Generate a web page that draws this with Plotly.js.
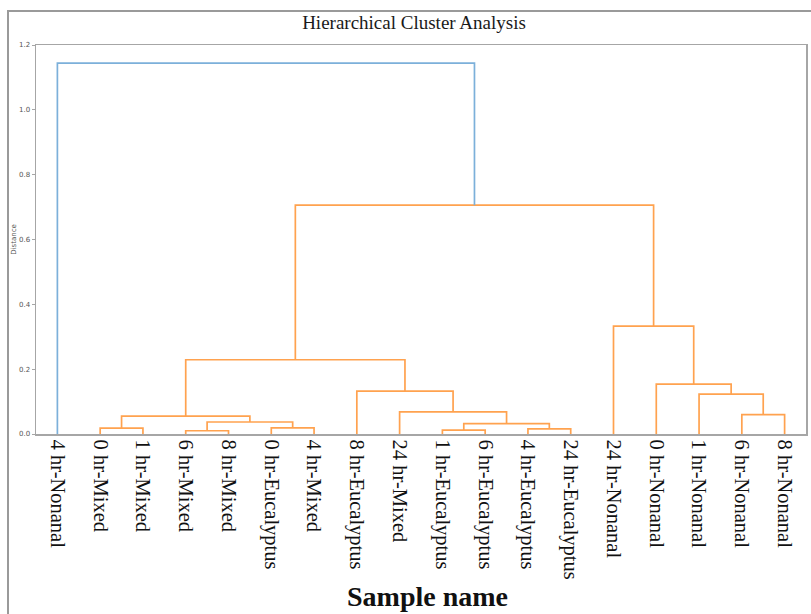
<!DOCTYPE html>
<html>
<head>
<meta charset="utf-8">
<script src="https://cdn.plot.ly/plotly-3.0.1.min.js"></script>
<style>
  html, body { margin: 0; padding: 0; background: #ffffff; overflow: hidden; }
  #chart { width: 811px; height: 614px; }
</style>
</head>
<body>
<div id="chart"></div>
<script>
// Leaf labels in dendrogram order (left to right)
const leafLabels = [
  "4 hr-Nonanal", "0 hr-Mixed", "1 hr-Mixed", "6 hr-Mixed", "8 hr-Mixed",
  "0 hr-Eucalyptus", "4 hr-Mixed", "8 hr-Eucalyptus", "24 hr-Mixed",
  "1 hr-Eucalyptus", "6 hr-Eucalyptus", "4 hr-Eucalyptus", "24 hr-Eucalyptus",
  "24 hr-Nonanal", "0 hr-Nonanal", "1 hr-Nonanal", "6 hr-Nonanal", "8 hr-Nonanal"
];

// Linkage: each merge creates cluster id = 18 + row index
const mergeLeft   = [3, 9, 11, 1, 5, 19, 18, 21, 16, 8, 15, 7, 14, 25, 13, 31, 0];
const mergeRight  = [4, 10, 12, 2, 6, 20, 22, 24, 17, 23, 26, 27, 28, 29, 30, 32, 33];
const mergeHeight = [0.010, 0.012, 0.016, 0.018, 0.019, 0.032, 0.037, 0.055, 0.060,
                     0.068, 0.123, 0.132, 0.154, 0.229, 0.333, 0.706, 1.144];
const mergeColor  = ["o","o","o","o","o","o","o","o","o","o","o","o","o","o","o","o","b"];

const yTickVals = [0.0, 0.2, 0.4, 0.6, 0.8, 1.0, 1.2];

const COLORS = { o: "#ffa24f", b: "#7cb0da" };

// positions of leaves like scipy: 5, 15, 25, ...
const n = leafLabels.length;
const posX = [], posY = [];
for (let i = 0; i < n; i++) { posX.push(5 + 10 * i); posY.push(0); }

const segs = { o: { x: [], y: [] }, b: { x: [], y: [] } };
for (let k = 0; k < mergeHeight.length; k++) {
  const a = mergeLeft[k], b = mergeRight[k], h = mergeHeight[k];
  const c = segs[mergeColor[k]];
  c.x.push(posX[a], posX[a], posX[b], posX[b], null);
  c.y.push(posY[a], h, h, posY[b], null);
  posX.push((posX[a] + posX[b]) / 2);
  posY.push(h);
}

const traces = ["o", "b"].map(key => ({
  type: "scatter", mode: "lines",
  x: segs[key].x, y: segs[key].y,
  line: { color: COLORS[key], width: 1.7 },
  hoverinfo: "skip", showlegend: false
}));

const tickVals = leafLabels.map((_, i) => 5 + 10 * i);

// page frame (left and top edges of the scanned page), in paper units
const PL = 36, PW = 770, PB = 434, PH = 389;
const px = v => (v - PL) / PW;
const py = v => (PB - v) / PH;

const layout = {
  width: 811, height: 614,
  margin: { l: 36, r: 5, t: 45, b: 180 },
  paper_bgcolor: "#ffffff",
  plot_bgcolor: "#ffffff",
  title: {
    text: "Hierarchical Cluster Analysis",
    font: { family: "Liberation Serif, Times New Roman, serif", size: 19, color: "#1a1a1a" },
    x: 414 / 811, xanchor: "center", y: 1 - 22 / 614, yanchor: "middle"
  },
  xaxis: {
    range: [0, 180], showgrid: false, zeroline: false,
    showline: true, mirror: true, linecolor: "#a6a6a6", linewidth: 1.5,
    tickmode: "array", tickvals: tickVals, ticktext: leafLabels,
    tickangle: 90, ticks: "",
    tickfont: { family: "Liberation Serif, Times New Roman, serif", size: 20.5, color: "#111111" }
  },
  yaxis: {
    range: [0, 1.2], showgrid: false, zeroline: false,
    showline: true, mirror: true, linecolor: "#a6a6a6", linewidth: 1.5,
    tickmode: "array", tickvals: yTickVals, tickformat: ".1f",
    ticks: "outside", ticklen: 3, tickcolor: "#a6a6a6", tickwidth: 1,
    tickfont: { family: "DejaVu Sans, sans-serif", size: 7, color: "#555555" },
    title: { text: "Distance", font: { family: "DejaVu Sans, sans-serif", size: 7, color: "#555555" }, standoff: 1 }
  },
  shapes: [
    { type: "line", xref: "paper", yref: "paper", x0: px(8), x1: px(8), y0: py(10), y1: py(630),
      line: { color: "#9a9a9a", width: 2 } },
    { type: "line", xref: "paper", yref: "paper", x0: px(7), x1: px(830), y0: py(11), y1: py(11),
      line: { color: "#9a9a9a", width: 2 } }
  ],
  annotations: [{
    text: "<b>Sample name</b>",
    xref: "paper", yref: "paper", x: px(427), y: py(596),
    xanchor: "center", yanchor: "middle", showarrow: false,
    font: { family: "Liberation Serif, Times New Roman, serif", size: 28, color: "#111111" }
  }]
};

Plotly.newPlot("chart", traces, layout, { displayModeBar: false, staticPlot: true });
</script>
</body>
</html>
